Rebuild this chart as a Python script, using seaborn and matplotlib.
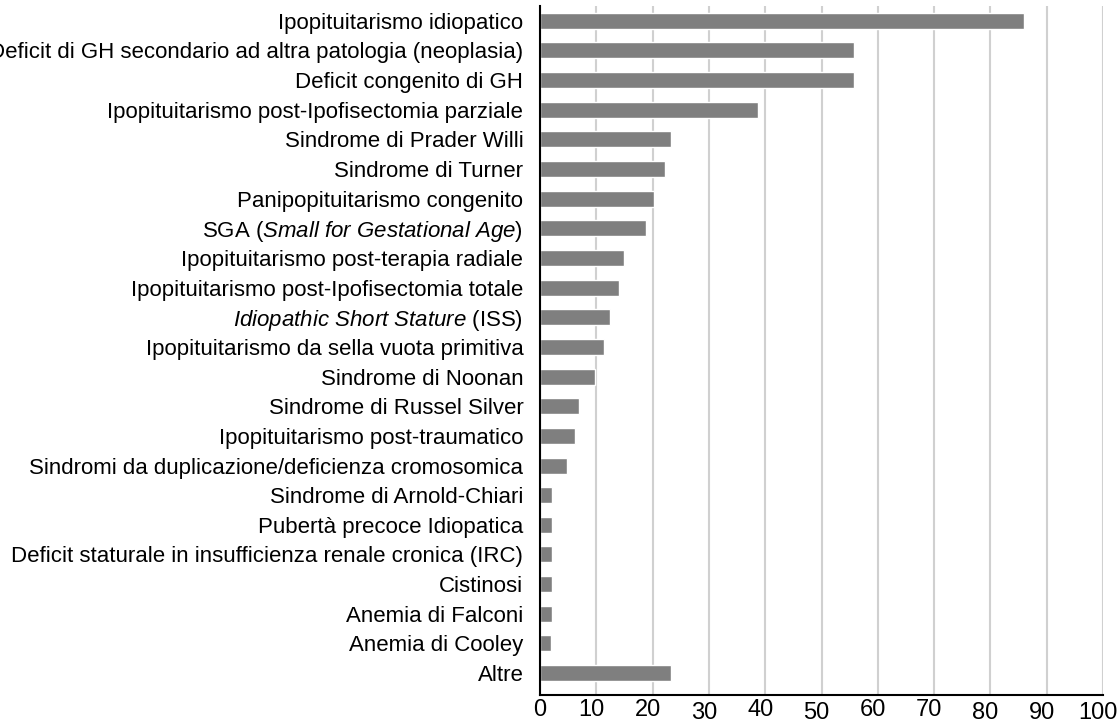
import matplotlib
matplotlib.use("Agg")
import matplotlib.pyplot as plt
import matplotlib.transforms as mtransforms
import seaborn as sns
import pandas as pd

categories = [
    "Ipopituitarismo idiopatico",
    "Deficit di GH secondario ad altra patologia (neoplasia)",
    "Deficit congenito di GH",
    "Ipopituitarismo post-Ipofisectomia parziale",
    "Sindrome di Prader Willi",
    "Sindrome di Turner",
    "Panipopituitarismo congenito",
    r"SGA ($\it{Small\ for\ Gestational\ Age}$)",
    "Ipopituitarismo post-terapia radiale",
    "Ipopituitarismo post-Ipofisectomia totale",
    r"$\it{Idiopathic\ Short\ Stature}$ (ISS)",
    "Ipopituitarismo da sella vuota primitiva",
    "Sindrome di Noonan",
    "Sindrome di Russel Silver",
    "Ipopituitarismo post-traumatico",
    "Sindromi da duplicazione/deficienza cromosomica",
    "Sindrome di Arnold-Chiari",
    "Pubertà precoce Idiopatica",
    "Deficit staturale in insufficienza renale cronica (IRC)",
    "Cistinosi",
    "Anemia di Falconi",
    "Anemia di Cooley",
    "Altre",
]
values = [86.0, 55.7, 55.7, 38.7, 23.3, 22.2, 20.3, 18.9, 14.9, 14.0, 12.5,
          11.3, 9.7, 6.9, 6.2, 4.8, 2.1, 2.1, 2.1, 2.1, 2.1, 2.0, 23.2]
x_ticks = list(range(0, 101, 10))

df = pd.DataFrame({"categoria": categories, "valore": values})

sns.set_style("white")
plt.rcParams["font.family"] = ["Liberation Sans", "DejaVu Sans"]
plt.rcParams["mathtext.fontset"] = "custom"
plt.rcParams["mathtext.rm"] = "Liberation Sans"
plt.rcParams["mathtext.it"] = "Liberation Sans:italic"
plt.rcParams["text.color"] = "black"
plt.rcParams["xtick.color"] = "black"
plt.rcParams["ytick.color"] = "black"

fig = plt.figure(figsize=(11.2, 7.24), dpi=100)
ax = fig.add_axes([540 / 1120, 1 - 695 / 724, (1103 - 540) / 1120, (695 - 6) / 724])

sns.barplot(data=df, y="categoria", x="valore", orient="h", color="#7f7f7f",
            saturation=1, width=0.54, ax=ax)

ax.set_xlim(0, 100)
ax.set_ylim(22.74, -0.5)
ax.set_xticks(x_ticks)
ax.set_xlabel("")
ax.set_ylabel("")
ax.xaxis.grid(True, color="#d0d0d0", linewidth=1.5)
ax.set_axisbelow(True)

for side in ["top", "right"]:
    ax.spines[side].set_visible(False)
for side in ["left", "bottom"]:
    ax.spines[side].set_color("black")
    ax.spines[side].set_linewidth(1.5)

ax.tick_params(axis="x", labelsize=17, length=0, pad=3)
ax.tick_params(axis="y", labelsize=16, length=0, pad=12)

# the original's tick labels sit a bit left of the gridlines, on an uneven baseline
for lab in ax.get_xticklabels():
    dx = 0 if lab.get_text() == "0" else -0.05
    dy = -0.03 if lab.get_text() in ("30", "50", "80", "90", "100") else 0
    shift = mtransforms.ScaledTranslation(dx, dy, fig.dpi_scale_trans)
    lab.set_transform(lab.get_transform() + shift)

fig.savefig("out.png", dpi=100)
